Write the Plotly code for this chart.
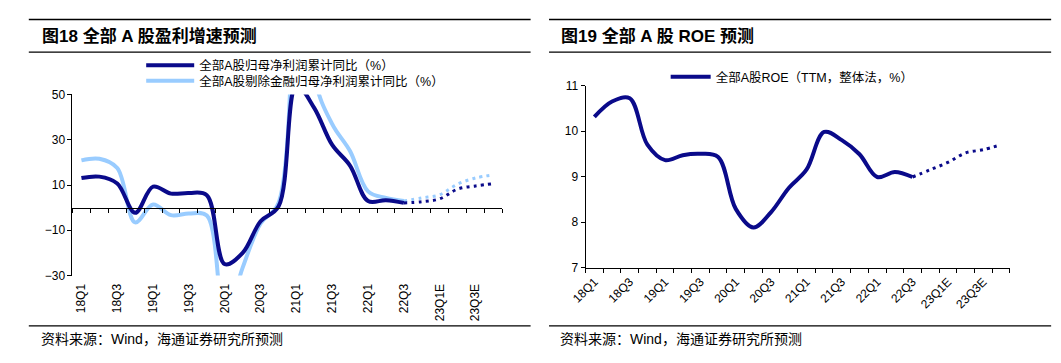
import plotly.graph_objects as go

quarters = ["18Q1", "18Q2", "18Q3", "18Q4", "19Q1", "19Q2", "19Q3", "19Q4",
            "20Q1", "20Q2", "20Q3", "20Q4", "21Q1", "21Q2", "21Q3", "21Q4",
            "22Q1", "22Q2", "22Q3", "22Q4E", "23Q1E", "23Q2E", "23Q3E", "23Q4E"]
n_actual = 19  # 18Q1 .. 22Q3 are actual, rest are forecasts

profit_all = [13.1, 13.7, 10.7, -2.3, 9.3, 6.2, 6.5, 5.5,
              -25.0, -20.0, -6.0, 0.5, 54.0, 44.0, 27.7, 18.5,
              2.9, 3.3, 2.1, 2.6, 3.9, 8.2, 9.6, 10.6]
profit_exfin = [20.9, 21.6, 17.5, -6.5, 1.4, -3.3, -2.6, -3.5,
                -50.0, -26.5, -7.0, 2.0, 220.0, 58.0, 36.9, 24.9,
                7.2, 4.3, 2.9, 4.3, 5.7, 10.4, 13.1, 14.5]
roe = [10.31, 10.65, 10.72, 9.70, 9.36, 9.47, 9.50, 9.43,
       8.29, 7.88, 8.22, 8.75, 9.15, 9.98, 9.80, 9.49,
       8.99, 9.10, 8.99, 9.15, 9.31, 9.52, 9.59, 9.70]

left_yticks = [-30, -10, 10, 30, 50]
right_yticks = [7, 8, 9, 10, 11]

title_left = "图18 全部 A 股盈利增速预测"
title_right = "图19 全部 A 股 ROE 预测"
source_text = "资料来源：Wind，海通证券研究所预测"
name_all = "全部A股归母净利润累计同比（%）"
name_exfin = "全部A股剔除金融归母净利润累计同比（%）"
name_roe = "全部A股ROE（TTM，整体法，%）"

DARK = "#0A0A8A"
LIGHT = "#99CCFF"
FONT = "Liberation Sans, Arial, Noto Sans CJK SC"
CJK = "Liberation Sans, Noto Sans CJK SC"

idx = list(range(len(quarters)))
act = idx[:n_actual]
fc = idx[n_actual - 1:]
label_idx = idx[::2]
label_txt = [quarters[i] for i in label_idx]

W, H = 1061, 363
fig = go.Figure()

def add_series(vals, color, name, xa, ya, legend, width=4):
    fig.add_trace(go.Scatter(x=act, y=vals[:n_actual], mode="lines", name=name,
                             line=dict(color=color, width=width, shape="spline", smoothing=1.0),
                             xaxis=xa, yaxis=ya, legend=legend, showlegend=True))
    fig.add_trace(go.Scatter(x=fc, y=vals[n_actual - 1:], mode="lines", name=name,
                             line=dict(color=color, width=3, dash="3px,4.3px", shape="spline", smoothing=1.0),
                             xaxis=xa, yaxis=ya, showlegend=False))

add_series(profit_exfin, LIGHT, name_exfin, "x", "y", "legend3")
add_series(profit_all, DARK, name_all, "x", "y", "legend")
add_series(roe, DARK, name_roe, "x2", "y2", "legend2")

# domains (paper)
lx = [58.3 / W, 494.4 / W]
ly = [1 - 279.3 / H, 1 - 91 / H]
rx = [578.7 / W, 1009.0 / W]
ry = [1 - 271.0 / H, 1 - 81.7 / H]
lrange = [-30, 50]
zero_pos = ly[0] + (0 - lrange[0]) / (lrange[1] - lrange[0]) * (ly[1] - ly[0])

tickfont = dict(family=FONT, size=12, color="black")
xr = [-0.5, len(quarters) - 0.5]
legfont = dict(family=CJK, size=12.5, color="black")

fig.update_layout(
    width=W, height=H, autosize=False,
    margin=dict(l=0, r=0, t=0, b=0),
    paper_bgcolor="white", plot_bgcolor="white",
    xaxis=dict(domain=lx, range=xr, anchor="y", showline=False, ticks="",
               tickvals=label_idx, ticktext=label_txt, tickangle=-90,
               showgrid=False, zeroline=False, tickfont=tickfont, ticklabelstandoff=5),
    xaxis3=dict(domain=lx, range=xr, overlaying="x", anchor="free", position=zero_pos,
                side="bottom", showline=True, linecolor="black", linewidth=1,
                tickmode="linear", tick0=-0.5, dtick=1, ticks="outside", ticklen=4,
                tickcolor="black", showticklabels=False, showgrid=False, zeroline=False),
    yaxis=dict(domain=ly, range=lrange, anchor="x", tickvals=left_yticks,
               showline=True, linecolor="black", linewidth=1, ticks="outside",
               ticklen=4, tickcolor="black", showgrid=False, zeroline=False, tickfont=tickfont),
    xaxis2=dict(domain=rx, range=xr, anchor="y2", showline=False, ticks="",
                tickvals=label_idx, ticktext=label_txt, tickangle=-45,
                showgrid=False, zeroline=False, tickfont=tickfont, ticklabelstandoff=4),
    xaxis4=dict(domain=rx, range=xr, overlaying="x2", anchor="y2", side="bottom",
                showline=True, linecolor="black", linewidth=1,
                tickmode="linear", tick0=-0.5, dtick=1, ticks="outside", ticklen=4,
                tickcolor="black", showticklabels=False, showgrid=False, zeroline=False),
    yaxis2=dict(domain=ry, range=[7, 11], anchor="x2", tickvals=right_yticks,
                showline=True, linecolor="black", linewidth=1, ticks="outside",
                ticklen=4, tickcolor="black", showgrid=False, zeroline=False, tickfont=tickfont),
    legend=dict(x=128 / W, y=1 - 61 / H, xanchor="left", yanchor="middle",
                bgcolor="rgba(0,0,0,0)", font=legfont, itemwidth=48),
    legend3=dict(x=128 / W, y=1 - 77 / H, xanchor="left", yanchor="middle",
                 bgcolor="rgba(0,0,0,0)", font=legfont, itemwidth=48),
    legend2=dict(x=660 / W, y=1 - 73 / H, xanchor="left", yanchor="middle",
                 bgcolor="rgba(0,0,0,0)", font=legfont, itemwidth=40),
)

# invisible traces to attach overlay axes
fig.add_trace(go.Scatter(x=[], y=[], xaxis="x3", yaxis="y", showlegend=False))
fig.add_trace(go.Scatter(x=[], y=[], xaxis="x4", yaxis="y2", showlegend=False))

# decorative rules
for (x0, x1) in [(14, 523), (541.7, 1051)]:
    for yy in [13, 47, 331.7]:
        fig.add_shape(type="line", xref="paper", yref="paper",
                      x0=x0 / W, x1=x1 / W, y0=1 - yy / H, y1=1 - yy / H,
                      line=dict(color="black", width=1.3))

for (xx, t) in [(25, title_left), (552, title_right)]:
    fig.add_annotation(x=xx / W, y=1 - 30 / H, xref="paper", yref="paper",
                       xanchor="left", yanchor="middle", showarrow=False,
                       text="<b>" + t + "</b>",
                       font=dict(family=CJK, size=17, color="black"))
for xx in [24, 551]:
    fig.add_annotation(x=xx / W, y=1 - 345 / H, xref="paper", yref="paper",
                       xanchor="left", yanchor="middle", showarrow=False,
                       text=source_text,
                       font=dict(family=CJK, size=14, color="black"))

fig.write_html("out.html", config={"displayModeBar": False},
               post_script="document.body.style.margin='0px';document.body.style.overflow='hidden';")
